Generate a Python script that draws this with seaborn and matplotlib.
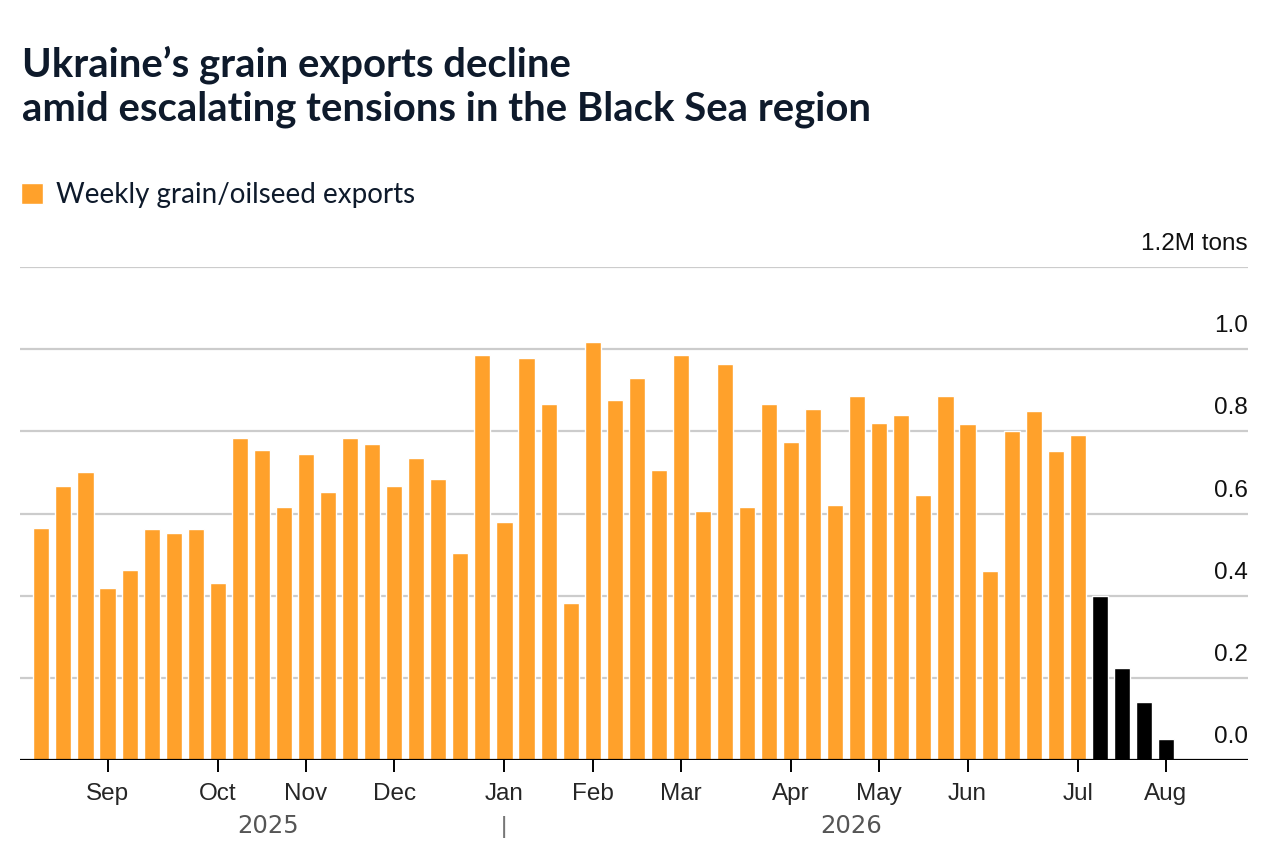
import pandas as pd
import matplotlib.pyplot as plt
import seaborn as sns

# weekly exports, million tons
weekly_exports = [0.564, 0.667, 0.702, 0.419, 0.462, 0.562, 0.553, 0.562, 0.430, 0.783,
                  0.754, 0.615, 0.745, 0.653, 0.783, 0.770, 0.668, 0.735, 0.685, 0.504,
                  0.985, 0.579, 0.979, 0.867, 0.381, 1.018, 0.877, 0.930, 0.706, 0.987,
                  0.606, 0.963, 0.617, 0.867, 0.775, 0.855, 0.620, 0.887, 0.821, 0.840,
                  0.645, 0.887, 0.819, 0.460, 0.800, 0.849, 0.752, 0.790]
recent_exports = [0.399, 0.223, 0.142, 0.052]

month_labels = ["Sep", "Oct", "Nov", "Dec", "Jan", "Feb", "Mar", "Apr", "May", "Jun", "Jul", "Aug"]
month_weeks = [3, 8, 12, 16, 21, 25, 29, 34, 38, 42, 47, 51]
year_labels = ["2025", "2026"]
year_pos = [10.3, 36.7]
y_ticks = [0.0, 0.2, 0.4, 0.6, 0.8, 1.0, 1.2]
y_tick_labels = ["0.0", "0.2", "0.4", "0.6", "0.8", "1.0", "1.2M tons"]

legend_label = "Weekly grain/oilseed exports"
values = weekly_exports + recent_exports
df = pd.DataFrame({
    "week": range(len(values)),
    "exports": values,
    "group": [legend_label] * len(weekly_exports) + ["recent"] * len(recent_exports),
})

ORANGE = "#FFA12B"
NAVY = "#0E1A2B"

sns.set_style("white")
plt.rcParams["font.family"] = ["Liberation Sans", "DejaVu Sans"]

fig = plt.figure(figsize=(12.8, 8.63), dpi=100)
ax = fig.add_axes([20 / 1280, 1 - 760 / 863, 1228 / 1280, 493 / 863])

sns.barplot(data=df, x="week", y="exports", hue="group", dodge=False, width=0.73,
            palette={legend_label: ORANGE, "recent": "#000000"}, saturation=1,
            ax=ax, zorder=3)
handles, labels = ax.get_legend_handles_labels()
ax.get_legend().remove()

ax.set_xlim(-0.97, 54.72)
ax.set_ylim(0, 1.2)
for s in ax.spines.values():
    s.set_visible(False)
ax.axhline(0, color="black", lw=1.6, zorder=4)

# gridlines with labels sitting above them on the right
ax.set_yticks([])
for v, lab in zip(y_ticks, y_tick_labels):
    if v > 0:
        ax.axhline(v, color="#cccccc", lw=1.6, zorder=1)
    ax.annotate(lab, xy=(1, v), xycoords=("axes fraction", "data"), xytext=(0, 12),
                textcoords="offset pixels", ha="right", va="bottom", fontsize=17.5, color="#111111")

ax.set_xticks(month_weeks)
ax.set_xticklabels(month_labels, fontsize=17.5)
ax.tick_params(axis="x", length=8.5, width=1.4, color="black", pad=8, bottom=True)
ax.set_xlabel("")
ax.set_ylabel("")

for lab, p in zip(year_labels, year_pos):
    ax.annotate(lab, xy=(p, 0), xycoords=("data", "axes fraction"), xytext=(0, -66),
                textcoords="offset pixels", ha="center", va="center", fontsize=17.5,
                color="#555555", family="DejaVu Sans")
ax.annotate("|", xy=(21, 0), xycoords=("data", "axes fraction"), xytext=(0, -67),
            textcoords="offset pixels", ha="center", va="center", fontsize=17.5, color="#777777")

# title and legend
fig.text(22 / 1280, 1 - 76 / 863, "Ukraine\u2019s grain exports decline", fontsize=28.8,
         fontweight="bold", color=NAVY, family="Lato", va="baseline")
fig.text(22 / 1280, 1 - 121 / 863, "amid escalating tensions in the Black Sea region", fontsize=28.8,
         fontweight="bold", color=NAVY, family="Lato", va="baseline")
fig.legend([handles[0]], [legend_label], loc="center left", bbox_to_anchor=(21 / 1280, 1 - 195 / 863),
           frameon=False, handlelength=0.8, handleheight=0.8, handletextpad=0.45,
           borderpad=0, borderaxespad=0,
           prop={"family": "Lato", "size": 20}, labelcolor=NAVY)

fig.savefig("out.png", dpi=100)
